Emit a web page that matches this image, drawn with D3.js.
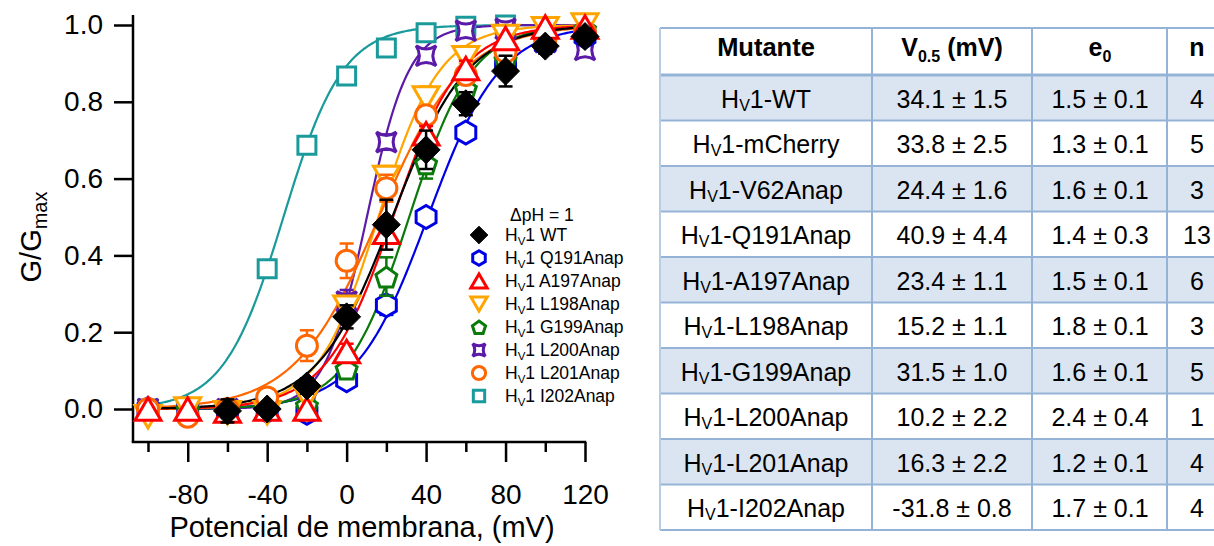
<!DOCTYPE html>
<html>
<head>
<meta charset="utf-8">
<script src="https://cdn.jsdelivr.net/npm/d3@7"></script>
<style>
body { margin: 0; background: #fff; }
text { font-family: "Liberation Sans", Arial, sans-serif; }
</style>
</head>
<body>
<svg id="chart" width="1214" height="546"></svg>
<script>
// ---- data ----
var voltages = [-100, -80, -60, -40, -20, 0, 20, 40, 60, 80, 100, 120];
var xMajorTicks = [-80, -40, 0, 40, 80, 120];
var xMinorTicks = [-100, -60, -20, 20, 60, 100];
var yTicks = [0, 0.2, 0.4, 0.6, 0.8, 1.0];

var legendNames = ["WT", "Q191Anap", "A197Anap", "L198Anap", "G199Anap", "L200Anap", "L201Anap", "I202Anap"];
var seriesColors = ["#000000", "#0000e6", "#ff0000", "#ffa500", "#0a7a0a", "#5c1aa8", "#ff6600", "#1a9a9a"];
var seriesShapes = ["diamond", "hexagon", "triUp", "triDown", "pentagon", "star", "circle", "square"];

var gWT    = [null, null, -0.005, 0.0, 0.06, 0.24, 0.48, 0.675, 0.795, 0.88, 0.945, 0.97];
var gQ191  = [0.0, 0.0, -0.005, -0.005, -0.01, 0.075, 0.27, 0.50, 0.72, 0.89, 0.95, 0.97];
var gA197  = [0.0, 0.0, -0.005, 0.0, 0.0, 0.15, 0.46, 0.717, 0.887, 0.965, 0.995, 0.995];
var gL198  = [-0.02, 0.0, -0.01, -0.01, 0.03, 0.265, 0.603, 0.81, 0.915, 0.97, 0.99, 1.0];
var gG199  = [0.0, 0.0, 0.0, 0.0, 0.01, 0.105, 0.345, 0.64, 0.835, 0.91, 0.96, 0.99];
var gL200  = [0.0, 0.0, 0.0, 0.0, 0.02, 0.28, 0.695, 0.92, 0.985, 0.99, 0.955, 0.935];
var gL201  = [0.0, -0.02, 0.0, 0.03, 0.165, 0.386, 0.575, 0.765, 0.87, 0.93, 0.96, 0.98];
var gI202  = [0.0, null, null, 0.365, 0.687, 0.867, 0.94, 0.98, 0.997, 1.0, null, null];

var eWT    = [0, 0, 0.03, 0.015, 0.02, 0.03, 0.065, 0.05, 0.03, 0.04, 0.02, 0.02];
var eQ191  = [0, 0, 0, 0, 0.01, 0.015, 0.025, 0.02, 0.015, 0.01, 0.01, 0.01];
var eA197  = [0, 0, 0.01, 0.01, 0.01, 0.02, 0.02, 0.02, 0.02, 0.01, 0.01, 0.01];
var eL198  = [0, 0, 0, 0, 0.01, 0.02, 0.03, 0.03, 0.015, 0.01, 0.01, 0.01];
var eG199  = [0, 0, 0, 0, 0.01, 0.025, 0.05, 0.04, 0.02, 0.01, 0.01, 0.01];
var eL200  = [0, 0, 0, 0, 0.01, 0.03, 0.02, 0.015, 0.01, 0.01, 0.01, 0.01];
var eL201  = [0, 0.01, 0, 0.02, 0.04, 0.045, 0.035, 0.02, 0.02, 0.01, 0.01, 0.01];
var eI202  = [0, 0, 0, 0.01, 0.01, 0.01, 0.01, 0.01, 0.01, 0.01, 0, 0];

// Boltzmann fit parameters of the drawn curves (V1/2 in mV, e0)
var fitV05 = [23.0, 40.9, 23.4, 16.0, 31.5, 10.2, 16.3, -31.8];
var fitE0  = [1.35, 1.4, 1.5, 1.65, 1.6, 2.4, 1.2, 1.7];
var kTe = 25.4;

// ---- table ----
var mutantes = ["WT", "mCherry", "V62Anap", "Q191Anap", "A197Anap", "L198Anap", "G199Anap", "L200Anap", "L201Anap", "I202Anap"];
var v05Vals = ["34.1 ± 1.5", "33.8 ± 2.5", "24.4 ± 1.6", "40.9 ± 4.4", "23.4 ± 1.1", "15.2 ± 1.1", "31.5 ± 1.0", "10.2 ± 2.2", "16.3 ± 2.2", "-31.8 ± 0.8"];
var e0Vals  = ["1.5 ± 0.1", "1.3 ± 0.1", "1.6 ± 0.1", "1.4 ± 0.3", "1.5 ± 0.1", "1.8 ± 0.1", "1.6 ± 0.1", "2.4 ± 0.4", "1.2 ± 0.1", "1.7 ± 0.1"];
var nVals   = ["4", "5", "3", "13", "6", "3", "5", "1", "4", "4"];

var gValues = [gWT, gQ191, gA197, gL198, gG199, gL200, gL201, gI202];
var gErrors = [eWT, eQ191, eA197, eL198, eG199, eL200, eL201, eI202];

var svg = d3.select("#chart");

var x = d3.scaleLinear().domain([-100, 120]).range([148, 585]);
var y = d3.scaleLinear().domain([0, 1]).range([409, 25]);

var axisX0 = 133, axisY0 = 442;

// ---- marker shapes ----
function shapePath(type, k) {
	var p = d3.path(), i, a, r;
	if (type == "diamond") {
		r = 14 * k;
		p.moveTo(0, -r); p.lineTo(r, 0); p.lineTo(0, r); p.lineTo(-r, 0); p.closePath();
	} else if (type == "hexagon") {
		r = 11.5 * k;
		for (i = 0; i < 6; i++) {
			a = (-90 + 60 * i) * Math.PI / 180;
			if (i == 0) p.moveTo(r * Math.cos(a), r * Math.sin(a)); else p.lineTo(r * Math.cos(a), r * Math.sin(a));
		}
		p.closePath();
	} else if (type == "triUp" || type == "triDown") {
		r = 15 * k;
		var s = type == "triUp" ? 1 : -1;
		p.moveTo(0, -0.75 * r * s);
		p.lineTo(0.866 * r, 0.75 * r * s);
		p.lineTo(-0.866 * r, 0.75 * r * s);
		p.closePath();
	} else if (type == "pentagon") {
		r = 11 * k;
		for (i = 0; i < 5; i++) {
			a = (-90 + 72 * i) * Math.PI / 180;
			if (i == 0) p.moveTo(r * Math.cos(a), r * Math.sin(a) + 1.5 * k); else p.lineTo(r * Math.cos(a), r * Math.sin(a) + 1.5 * k);
		}
		p.closePath();
	} else if (type == "star") {
		r = 10 * k;
		p.moveTo(-r, -r);
		p.quadraticCurveTo(0, -0.35 * r, r, -r);
		p.quadraticCurveTo(0.35 * r, 0, r, r);
		p.quadraticCurveTo(0, 0.35 * r, -r, r);
		p.quadraticCurveTo(-0.35 * r, 0, -r, -r);
		p.closePath();
	} else if (type == "circle") {
		r = 10.5 * k;
		p.arc(0, 0, r, 0, 2 * Math.PI);
	} else if (type == "square") {
		r = 9 * k;
		p.rect(-r, -r, 2 * r, 2 * r);
	}
	return p.toString();
}

// ---- axes ----
svg.append("line")
	.attr("x1", axisX0).attr("x2", axisX0)
	.attr("y1", 15).attr("y2", axisY0)
	.attr("stroke", "#000").attr("stroke-width", 2.5);
svg.append("line")
	.attr("x1", axisX0 - 1.25).attr("x2", x(120) + 1.25)
	.attr("y1", axisY0).attr("y2", axisY0)
	.attr("stroke", "#000").attr("stroke-width", 2.5);

var yAxis = d3.axisLeft(y)
	.tickValues(yTicks)
	.tickSize(19)
	.tickPadding(11)
	.tickFormat(d3.format(".1f"));

svg.append("g")
	.attr("class", "axis axis--y")
	.attr("transform", "translate(" + axisX0 + ",0)")
	.call(yAxis)
	.call(function(g) {
		g.select(".domain").remove();
		g.selectAll("line").attr("stroke-width", 2.5);
		g.selectAll("text").attr("font-size", 28).attr("fill", "#000").attr("font-family", "Liberation Sans, Arial, sans-serif");
	});

var xAxis = d3.axisBottom(x)
	.tickValues(xMajorTicks)
	.tickSize(20)
	.tickPadding(22)
	.tickFormat(function(d) { return String(d); });

svg.append("g")
	.attr("class", "axis axis--x")
	.attr("transform", "translate(0," + axisY0 + ")")
	.call(xAxis)
	.call(function(g) {
		g.select(".domain").remove();
		g.selectAll("line").attr("stroke-width", 2.5);
		g.selectAll("text").attr("font-size", 28).attr("fill", "#000").attr("font-family", "Liberation Sans, Arial, sans-serif");
	});

svg.append("g")
	.attr("class", "axis axis--x-minor")
	.attr("transform", "translate(0," + axisY0 + ")")
	.call(d3.axisBottom(x).tickValues(xMinorTicks).tickSize(10).tickFormat(""))
	.call(function(g) {
		g.select(".domain").remove();
		g.selectAll("line").attr("stroke-width", 2.5);
	});

svg.append("text")
	.attr("x", 362)
	.attr("y", 537)
	.attr("text-anchor", "middle")
	.attr("font-size", 29)
	.text("Potencial de membrana, (mV)");

var yLabel = svg.append("text")
	.attr("transform", "translate(41,237) rotate(-90)")
	.attr("text-anchor", "middle")
	.attr("font-size", 29);
yLabel.append("tspan").text("G/G");
yLabel.append("tspan").attr("font-size", 20).attr("dy", 6).text("max");

// ---- fit curves ----
var fitLine = d3.line()
	.x(function(d) { return x(d[0]); })
	.y(function(d) { return y(d[1]); });

var curveV = d3.range(-100, 120.5, 1);
var drawOrder = [7, 5, 1, 4, 3, 6, 2, 0];

drawOrder.forEach(function(si) {
	var pts = curveV.map(function(v) {
		return [v, 1 / (1 + Math.exp(-fitE0[si] * (v - fitV05[si]) / kTe))];
	});
	svg.append("path")
		.datum(pts)
		.attr("fill", "none")
		.attr("stroke", seriesColors[si])
		.attr("stroke-width", 2.2)
		.attr("d", fitLine);
});

// ---- error bars + markers ----
drawOrder.forEach(function(si) {
	var pts = [];
	voltages.forEach(function(v, i) {
		if (gValues[si][i] !== null) pts.push({v: v, g: gValues[si][i], e: gErrors[si][i]});
	});
	var grp = svg.append("g").attr("class", "series s" + si);

	var eb = grp.selectAll(".err").data(pts.filter(function(d) { return d.e > 0.012; }))
		.enter().append("g").attr("class", "err")
		.attr("stroke", seriesColors[si]).attr("stroke-width", 2.5);
	eb.append("line")
		.attr("x1", function(d) { return x(d.v); })
		.attr("x2", function(d) { return x(d.v); })
		.attr("y1", function(d) { return y(d.g + d.e); })
		.attr("y2", function(d) { return y(d.g - d.e); });
	[1, -1].forEach(function(sgn) {
		eb.append("line")
			.attr("x1", function(d) { return x(d.v) - 7; })
			.attr("x2", function(d) { return x(d.v) + 7; })
			.attr("y1", function(d) { return y(d.g + sgn * d.e); })
			.attr("y2", function(d) { return y(d.g + sgn * d.e); });
	});

	grp.selectAll(".mk").data(pts)
		.enter().append("path")
		.attr("class", "mk")
		.attr("transform", function(d) { return "translate(" + x(d.v) + "," + y(d.g) + ")"; })
		.attr("d", shapePath(seriesShapes[si], 1))
		.attr("fill", si == 0 ? "#000" : "#fff")
		.attr("stroke", seriesColors[si])
		.attr("stroke-width", si == 0 ? 1 : 3);
});

// ---- legend ----
var legend = svg.append("g").attr("class", "legend");
legend.append("text")
	.attr("x", 510).attr("y", 221)
	.attr("font-size", 17.5)
	.text("ΔpH = 1");

legendNames.forEach(function(name, i) {
	var ly = 235 + i * 23;
	legend.append("path")
		.attr("transform", "translate(479," + ly + ")")
		.attr("d", shapePath(seriesShapes[i], 0.63))
		.attr("fill", i == 0 ? "#000" : "#fff")
		.attr("stroke", seriesColors[i])
		.attr("stroke-width", i == 0 ? 1 : 3);
	var t = legend.append("text")
		.attr("x", 505).attr("y", ly + 6)
		.attr("font-size", 17.5);
	t.append("tspan").text("H");
	t.append("tspan").attr("font-size", 11.5).attr("dy", 4).text("V");
	t.append("tspan").attr("dy", -4).text("1 " + name);
});

// ---- table ----
var colEdges = [660, 872, 1032, 1167, 1240];
var headerTop = 28, headerBottom = 75, rowH = 45.5;
var tbl = svg.append("g").attr("class", "table");

mutantes.forEach(function(m, i) {
	tbl.append("rect")
		.attr("x", colEdges[0]).attr("y", headerBottom + i * rowH)
		.attr("width", colEdges[4] - colEdges[0]).attr("height", rowH)
		.attr("fill", i % 2 == 0 ? "#dbe5f1" : "#ffffff");
});

var gridColor = "#95b3d7";
// horizontal rules
tbl.append("line")
	.attr("x1", colEdges[0]).attr("x2", colEdges[4])
	.attr("y1", headerTop).attr("y2", headerTop)
	.attr("stroke", gridColor).attr("stroke-width", 2);
tbl.append("line")
	.attr("x1", colEdges[0]).attr("x2", colEdges[4])
	.attr("y1", headerBottom).attr("y2", headerBottom)
	.attr("stroke", gridColor).attr("stroke-width", 3);
d3.range(1, mutantes.length + 1).forEach(function(i) {
	tbl.append("line")
		.attr("x1", colEdges[0]).attr("x2", colEdges[4])
		.attr("y1", headerBottom + i * rowH).attr("y2", headerBottom + i * rowH)
		.attr("stroke", gridColor).attr("stroke-width", 2);
});
// vertical rules
colEdges.slice(0, 4).forEach(function(cx, i) {
	tbl.append("line")
		.attr("x1", cx).attr("x2", cx)
		.attr("y1", headerTop).attr("y2", headerBottom + mutantes.length * rowH)
		.attr("stroke", i == 0 ? "#b8cce4" : gridColor).attr("stroke-width", 2);
});

var colCenters = [766, 952, 1100, 1197];

// header
var hy = 56;
tbl.append("text").attr("x", colCenters[0]).attr("y", hy).attr("text-anchor", "middle")
	.attr("font-size", 25.5).attr("font-weight", "bold").text("Mutante");
var hv = tbl.append("text").attr("x", colCenters[1]).attr("y", hy).attr("text-anchor", "middle")
	.attr("font-size", 25).attr("font-weight", "bold");
hv.append("tspan").text("V");
hv.append("tspan").attr("font-size", 16).attr("dy", 6).text("0.5");
hv.append("tspan").attr("dy", -6).text(" (mV)");
var he = tbl.append("text").attr("x", colCenters[2]).attr("y", hy).attr("text-anchor", "middle")
	.attr("font-size", 25).attr("font-weight", "bold");
he.append("tspan").text("e");
he.append("tspan").attr("font-size", 16).attr("dy", 6).text("0");
tbl.append("text").attr("x", colCenters[3]).attr("y", hy).attr("text-anchor", "middle")
	.attr("font-size", 25).attr("font-weight", "bold").text("n");

mutantes.forEach(function(m, i) {
	var by = headerBottom + i * rowH + rowH / 2 + 10;
	var t = tbl.append("text").attr("x", colCenters[0]).attr("y", by)
		.attr("text-anchor", "middle").attr("font-size", 25);
	t.append("tspan").text("H");
	t.append("tspan").attr("font-size", 16).attr("dy", 3).text("V");
	t.append("tspan").attr("dy", -3).text("1-" + m);
	tbl.append("text").attr("x", colCenters[1]).attr("y", by)
		.attr("text-anchor", "middle").attr("font-size", 25).text(v05Vals[i]);
	tbl.append("text").attr("x", colCenters[2]).attr("y", by)
		.attr("text-anchor", "middle").attr("font-size", 25).text(e0Vals[i]);
	tbl.append("text").attr("x", colCenters[3]).attr("y", by)
		.attr("text-anchor", "middle").attr("font-size", 25).text(nVals[i]);
});
</script>
</body>
</html>
